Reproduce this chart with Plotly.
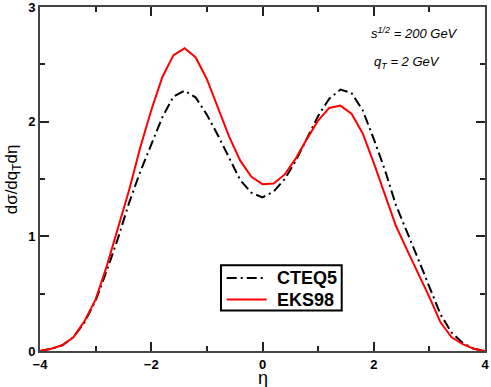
import plotly.graph_objects as go

# rapidity grid and the two curves
eta = [-4.0, -3.8, -3.6, -3.4, -3.2, -3.0, -2.8, -2.6, -2.4, -2.2, -2.0,
       -1.8, -1.6, -1.4, -1.2, -1.0, -0.8, -0.6, -0.4, -0.2, 0.0,
       0.2, 0.4, 0.6, 0.8, 1.0, 1.2, 1.4, 1.6, 1.8, 2.0,
       2.2, 2.4, 2.6, 2.8, 3.0, 3.2, 3.4, 3.6, 3.8, 4.0]

cteq5 = [0.00, 0.02, 0.05, 0.12, 0.25, 0.44, 0.70, 0.98, 1.29, 1.56, 1.80,
         2.04, 2.22, 2.27, 2.21, 2.06, 1.88, 1.68, 1.49, 1.38, 1.34,
         1.39, 1.50, 1.66, 1.86, 2.05, 2.20, 2.28, 2.25, 2.10, 1.85,
         1.58, 1.27, 1.04, 0.80, 0.56, 0.32, 0.16, 0.07, 0.02, 0.00]

eks98 = [0.00, 0.02, 0.05, 0.12, 0.26, 0.45, 0.74, 1.07, 1.40, 1.77, 2.10,
         2.39, 2.58, 2.64, 2.56, 2.37, 2.12, 1.87, 1.66, 1.52, 1.455,
         1.46, 1.54, 1.68, 1.85, 2.01, 2.12, 2.14, 2.07, 1.90, 1.64,
         1.36, 1.09, 0.88, 0.68, 0.47, 0.25, 0.12, 0.06, 0.02, 0.00]

series_names = ['CTEQ5', 'EKS98']
series_colors = ['black', '#ff0000']
series_dash = ['10px,4px,2px,4px', 'solid']

FONT = 'Liberation Sans, Arial, sans-serif'

fig = go.Figure()
for name, ys, col, dash in zip(series_names, [cteq5, eks98], series_colors, series_dash):
    fig.add_trace(go.Scatter(
        x=eta, y=ys, mode='lines', name=name, showlegend=False,
        line=dict(color=col, width=2, dash=dash)
    ))

axis_common = dict(
    showline=True, linecolor='#444444', linewidth=2, mirror='ticks',
    ticks='inside', ticklen=9, tickwidth=2, tickcolor='#222222',
    showgrid=False, zeroline=False, automargin=False, ticklabeloverflow='allow',
    tickfont=dict(family=FONT, size=13, color='black', weight='bold'),
)

fig.update_xaxes(
    range=[-4, 4], tickmode='linear', tick0=-4, dtick=2,
    minor=dict(ticks='inside', ticklen=5, tickwidth=1.5, tickcolor='#222222', dtick=1, showgrid=False),
    **axis_common
)
fig.update_yaxes(
    range=[0, 3], tickmode='linear', tick0=0, dtick=1,
    minor=dict(ticks='inside', ticklen=5, tickwidth=1.5, tickcolor='#222222', dtick=0.5, showgrid=False),
    **axis_common
)

# axis titles
fig.add_annotation(x=0.5, y=-0.078, xref='paper', yref='paper', showarrow=False,
                   xanchor='center', yanchor='middle',
                   font=dict(family=FONT, size=18, color='black'), text='η')
fig.add_annotation(x=-0.06, y=0.5, xref='paper', yref='paper', showarrow=False,
                   xanchor='center', yanchor='middle', textangle=-90,
                   font=dict(family=FONT, size=17, color='black'),
                   text='dσ/dq<sub>T</sub>dη')

# energy / qT labels
ann_font = dict(family=FONT, size=13, color='black')
fig.add_annotation(x=0.944, y=0.924, xref='paper', yref='paper', showarrow=False,
                   xanchor='right', yanchor='middle', font=ann_font,
                   text='<i>s<sup>1/2</sup> = 200 GeV</i>')
fig.add_annotation(x=0.903, y=0.84, xref='paper', yref='paper', showarrow=False,
                   xanchor='right', yanchor='middle', font=ann_font,
                   text='<i>q<sub>T</sub> = 2 GeV</i>')

# legend box drawn by hand (xmgrace style)
leg_x0, leg_x1, leg_y0, leg_y1 = 0.4067, 0.678, 0.1175, 0.2493
leg_rows = [0.2124, 0.1496]
fig.add_shape(type='rect', xref='paper', yref='paper',
              x0=leg_x0, x1=leg_x1, y0=leg_y0, y1=leg_y1,
              line=dict(color='black', width=2), fillcolor='white', layer='above')
for name, col, dash, yy in zip(series_names, series_colors, series_dash, leg_rows):
    fig.add_shape(type='line', xref='paper', yref='paper',
                  x0=0.4196, x1=0.5094, y0=yy, y1=yy,
                  line=dict(color=col, width=2, dash=dash), layer='above')
    fig.add_annotation(x=0.527, y=yy, xref='paper', yref='paper', showarrow=False,
                       xanchor='left', yanchor='middle',
                       font=dict(family=FONT, size=18, color='black', weight='bold'),
                       text=name)

fig.update_layout(
    width=491, height=387,
    margin=dict(l=40, r=6, t=7, b=36),
    plot_bgcolor='white', paper_bgcolor='white',
    showlegend=False,
)

# page has a default 8px body margin; drop it so the figure sits at the corner
fig.write_html("out.html", config={'displayModeBar': False},
               post_script="document.body.style.margin='0';document.body.style.overflow='hidden';")
